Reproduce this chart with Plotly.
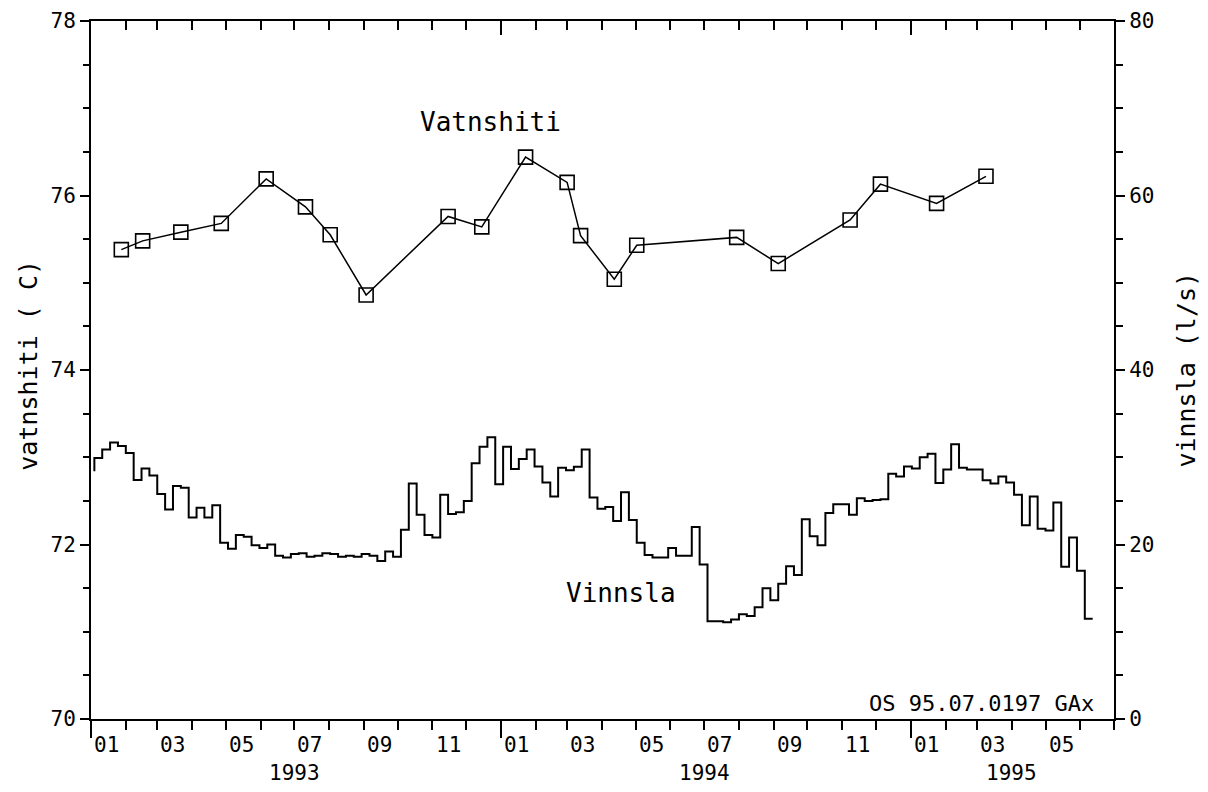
import plotly.graph_objects as go
import pandas as pd

# ---------------- data ----------------
# Vinnsla (l/s), weekly step values (right axis)
vinnsla_start = "1993-01-04"
vinnsla_first = 28.4
vinnsla_weekly = [
    29.9, 30.9, 31.7, 31.3, 30.5, 27.4, 28.7, 27.9, 25.8, 24.0,
    26.7, 26.5, 23.1, 24.2, 23.1, 24.5, 20.2, 19.5, 21.1, 20.9,
    19.9, 19.6, 20.0, 18.7, 18.5, 18.9, 19.0, 18.6, 18.7, 19.0,
    18.9, 18.6, 18.7, 18.6, 18.9, 18.7, 18.1, 19.2, 18.6, 21.7,
    27.0, 23.4, 21.1, 20.8, 25.7, 23.5, 23.7, 25.0, 29.3, 31.2,
    32.3, 26.9, 31.2, 28.65, 29.8, 30.9, 28.95, 27.1, 25.5, 28.8,
    28.5, 28.9, 30.9, 25.4, 24.1, 24.3, 22.7, 26.0, 22.8, 20.2,
    18.8, 18.5, 18.5, 19.6, 18.7, 18.7, 22.0, 17.7, 11.2, 11.2,
    11.1, 11.4, 12.0, 11.8, 12.8, 15.0, 13.6, 15.5, 17.5, 16.5,
    22.9, 20.95, 19.9, 23.6, 24.6, 24.6, 23.4, 25.3, 25.0, 25.1,
    25.2, 28.1, 27.8, 28.95, 28.7, 30.0, 30.4, 27.05, 28.6, 31.5,
    28.8, 28.6, 28.6, 27.35, 27.0, 27.8, 27.1, 25.7, 22.2, 25.5,
    21.8, 21.6, 24.8, 17.45, 20.8, 17.0, 11.5,
]

# Vatnshiti (C), spot measurements (left axis)
vat_dates = [
    "1993-01-28", "1993-02-16", "1993-03-22", "1993-04-27", "1993-06-06",
    "1993-07-11", "1993-08-02", "1993-09-03", "1993-11-15", "1993-12-15",
    "1994-01-23", "1994-03-01", "1994-03-13", "1994-04-12", "1994-05-02",
    "1994-07-30", "1994-09-05", "1994-11-08", "1994-12-05", "1995-01-24",
    "1995-03-09",
]
vat_values = [
    75.38, 75.48, 75.58, 75.68, 76.19,
    75.87, 75.55, 74.86, 75.76, 75.64,
    76.44, 76.15, 75.54, 75.04, 75.43,
    75.52, 75.22, 75.72, 76.13, 75.91,
    76.22,
]

# x-axis labels
month_label_text = ["01", "03", "05", "07", "09", "11",
                    "01", "03", "05", "07", "09", "11",
                    "01", "03", "05"]
month_label_dates = ["1993-01-15", "1993-03-15", "1993-05-15", "1993-07-15", "1993-09-15", "1993-11-15",
                     "1994-01-15", "1994-03-15", "1994-05-15", "1994-07-15", "1994-09-15", "1994-11-15",
                     "1995-01-15", "1995-03-15", "1995-05-15"]
year_label_text = ["1993", "1994", "1995"]
year_label_dates = ["1993-07-01", "1994-07-01", "1995-04-01"]
year_tick_dates = ["1993-01-01", "1994-01-01", "1995-01-01"]

# ---------------- figure ----------------
FONT = "DejaVu Sans Mono"
vin_dates = pd.date_range(vinnsla_start, periods=len(vinnsla_weekly) + 1, freq="7D")
vin_values = [vinnsla_first] + vinnsla_weekly

fig = go.Figure()
fig.add_trace(go.Scatter(
    x=vin_dates, y=vin_values, mode="lines",
    line=dict(color="black", width=2, shape="vh"),
    xaxis="x", yaxis="y2", showlegend=False, hoverinfo="skip"))
fig.add_trace(go.Scatter(
    x=vat_dates, y=vat_values, mode="lines+markers",
    line=dict(color="black", width=1.5),
    marker=dict(symbol="square-open", size=14, color="black", line=dict(width=1.6, color="black")),
    xaxis="x", yaxis="y", showlegend=False))
# invisible trace to anchor the top axis
fig.add_trace(go.Scatter(x=[year_tick_dates[0]], y=[70], mode="markers",
                         marker=dict(opacity=0), xaxis="x2", yaxis="y",
                         showlegend=False, hoverinfo="skip"))

xrange = ["1993-01-01", "1995-07-01"]
common_x = dict(type="date", range=xrange, showgrid=False, zeroline=False, automargin=False,
                showline=True, linecolor="black", linewidth=2,
                tickvals=year_tick_dates, showticklabels=False,
                tickcolor="black", tickwidth=1.5)

fig.update_layout(
    width=1192, height=776,
    margin=dict(l=83, r=86, t=13, b=65, autoexpand=False),
    paper_bgcolor="white", plot_bgcolor="white",
    font=dict(family=FONT, color="black", size=21),
    xaxis=dict(**common_x, ticks="outside", ticklen=17,
               minor=dict(ticks="outside", dtick="M1", tick0="1993-01-01",
                          ticklen=9, tickwidth=1.5, tickcolor="black", showgrid=False)),
    xaxis2=dict(**common_x, overlaying="x", side="top", anchor="y", ticks="inside", ticklen=14,
                minor=dict(ticks="inside", dtick="M1", tick0="1993-01-01",
                           ticklen=9, tickwidth=1.5, tickcolor="black", showgrid=False)),
    yaxis=dict(range=[70, 78], tickvals=[70, 72, 74, 76, 78], ticks="outside", ticklen=9,
               tickwidth=1.5, tickcolor="black", showgrid=False, zeroline=False, automargin=False,
               showline=True, linecolor="black", linewidth=2,
               tickfont=dict(family=FONT, size=21),
               minor=dict(ticks="outside", dtick=0.5, ticklen=6, tickwidth=1.5,
                          tickcolor="black", showgrid=False)),
    yaxis2=dict(range=[0, 80], overlaying="y", side="right", anchor="x", dtick=20,
                ticks="outside", ticklen=9, tickwidth=1.5, tickcolor="black", automargin=False,
                showgrid=False, zeroline=False, showline=True, linecolor="black", linewidth=2,
                tickfont=dict(family=FONT, size=21),
                minor=dict(ticks="outside", dtick=5, ticklen=7, tickwidth=1.5,
                           tickcolor="black", showgrid=False)),
)

annotations = []
for d, t in zip(month_label_dates, month_label_text):
    annotations.append(dict(x=d, y=-0.037, xref="x", yref="paper", text=t, showarrow=False,
                            font=dict(family=FONT, size=21), xanchor="center", yanchor="middle"))
for d, t in zip(year_label_dates, year_label_text):
    annotations.append(dict(x=d, y=-0.078, xref="x", yref="paper", text=t, showarrow=False,
                            font=dict(family=FONT, size=21), xanchor="center", yanchor="middle"))

annotations += [
    dict(x=-0.061, y=0.507, xref="paper", yref="paper", text="vatnshiti ( C)", textangle=-90,
         showarrow=False, font=dict(family=FONT, size=25), xanchor="center", yanchor="middle"),
    dict(x=1.07, y=0.5, xref="paper", yref="paper", text="vinnsla (l/s)", textangle=-90,
         showarrow=False, font=dict(family=FONT, size=25), xanchor="center", yanchor="middle"),
    dict(x=0.3905, y=0.855, xref="paper", yref="paper", text="Vatnshiti", showarrow=False,
         font=dict(family=FONT, size=26), xanchor="center", yanchor="middle"),
    dict(x=0.5176, y=0.180, xref="paper", yref="paper", text="Vinnsla", showarrow=False,
         font=dict(family=FONT, size=26), xanchor="center", yanchor="middle"),
    dict(x=0.982, y=0.0215, xref="paper", yref="paper", text="OS 95.07.0197 GAx", showarrow=False,
         font=dict(family=FONT, size=22), xanchor="right", yanchor="middle"),
]
fig.update_layout(annotations=annotations)

fig.write_html("out.html")
